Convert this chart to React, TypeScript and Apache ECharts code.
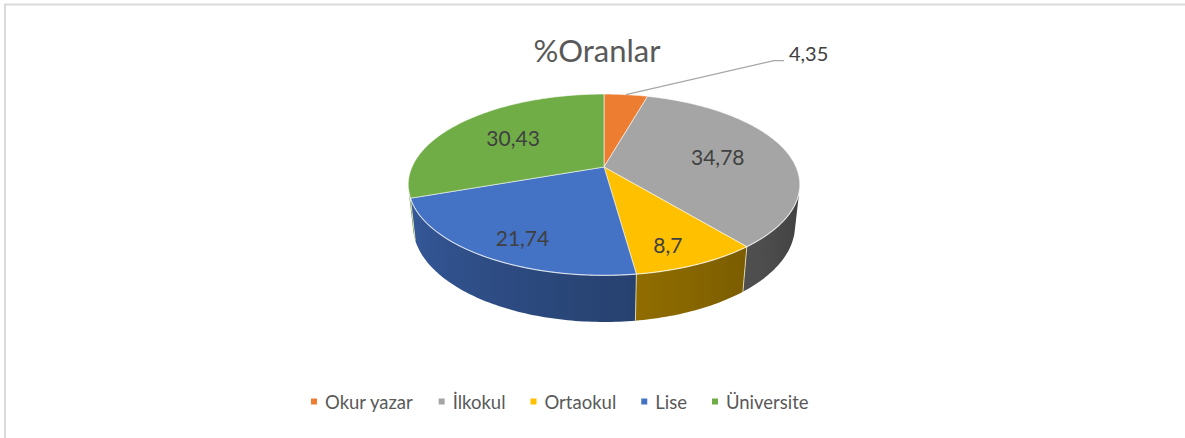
import React, { useEffect, useRef } from "react";
import * as echarts from "echarts";

const titleText = "%Oranlar";
const categories = ["Okur yazar", "İlkokul", "Ortaokul", "Lise", "Üniversite"];
const values = [4.35, 34.78, 8.7, 21.74, 30.43];
const colors = ["#ED7D31", "#A5A5A5", "#FFC000", "#4472C4", "#70AD47"];

const FONT = "Lato, 'Open Sans', sans-serif";

// projection constants (layout)
const CX = 604;
const CY = 167;
const F = 192;
const PHI = (27 * Math.PI) / 180;
const DIST = 4.56;
const DEPTH = 0.241;

function proj(thetaDeg: number, y: number, r = 1): number[] {
  const t = (thetaDeg * Math.PI) / 180;
  const X = r * Math.sin(t);
  const Z = -r * Math.cos(t);
  const pu = y * Math.cos(PHI) - Z * Math.sin(PHI);
  const pw = y * Math.sin(PHI) + Z * Math.cos(PHI);
  const s = DIST / (DIST - pw);
  return [CX + F * X * s, CY - F * pu * s];
}

const THETA_MIN = (Math.acos(-1 / (DIST * Math.cos(PHI))) * 180) / Math.PI;
const THETA_MAX = 360 - THETA_MIN;

function arcPts(a: number, b: number, y: number): number[][] {
  const pts: number[][] = [];
  const n = Math.max(2, Math.ceil(Math.abs(b - a) / 1));
  for (let i = 0; i <= n; i++) pts.push(proj(a + ((b - a) * i) / n, y));
  return pts;
}

function shade(hex: string, k: number) {
  const n = parseInt(hex.slice(1), 16);
  const r = Math.round(((n >> 16) & 255) * k);
  const g = Math.round(((n >> 8) & 255) * k);
  const b = Math.round((n & 255) * k);
  return `rgb(${r},${g},${b})`;
}

function shadeFactor(theta: number) {
  const t = Math.min(1, Math.max(0, (theta - THETA_MIN) / (THETA_MAX - THETA_MIN)));
  return 0.38 + 0.42 * t;
}

const total = values.reduce((s, v) => s + v, 0);
const starts: number[] = [];
{
  let acc = 0;
  values.forEach((v) => {
    starts.push((acc / total) * 360);
    acc += v;
  });
}

function fmt(v: number) {
  return String(v).replace(".", ",");
}

function renderSlice(i: number) {
  const a = starts[i];
  const b = a + (values[i] / total) * 360;
  const color = colors[i];
  const children: any[] = [];
  const center = proj(0, 0, 0);
  const topPts = [center, ...arcPts(a, b, 0)];

  const lo = Math.max(a, THETA_MIN);
  const hi = Math.min(b, THETA_MAX);
  if (lo < hi) {
    const topArc = arcPts(lo, hi, 0);
    const botArc = arcPts(lo, hi, -DEPTH).reverse();
    const sidePts = [...topArc, ...botArc];
    const xLo = proj(lo, 0)[0];
    const xHi = proj(hi, 0)[0];
    const stops: any[] = [];
    const ns = 6;
    for (let k = 0; k <= ns; k++) {
      const th = lo + ((hi - lo) * k) / ns;
      const x = proj(th, 0)[0];
      const off = Math.abs(xHi - xLo) < 1e-6 ? k / ns : (x - xLo) / (xHi - xLo);
      stops.push({ offset: Math.min(1, Math.max(0, off)), color: shade(color, shadeFactor(th)) });
    }
    stops.sort((p: any, q: any) => p.offset - q.offset);
    children.push({
      type: "polygon",
      shape: { points: sidePts },
      style: {
        fill: {
          type: "linear",
          x: xLo,
          y: 0,
          x2: xHi,
          y2: 0,
          global: true,
          colorStops: stops,
        },
        stroke: null,
      },
      z2: 1,
    });
    children.push({
      type: "polyline",
      shape: { points: topArc },
      style: { stroke: "rgba(255,255,255,0.45)", lineWidth: 1.2, fill: null },
      z2: 3,
    });
    if (b < THETA_MAX && b > THETA_MIN) {
      children.push({
        type: "line",
        shape: {
          x1: proj(b, 0)[0],
          y1: proj(b, 0)[1],
          x2: proj(b, -DEPTH)[0],
          y2: proj(b, -DEPTH)[1],
        },
        style: { stroke: "rgba(255,250,210,0.7)", lineWidth: 1 },
        z2: 3,
      });
    }
  }

  children.push({
    type: "polygon",
    shape: { points: topPts },
    style: { fill: color, stroke: "rgba(255,255,255,0.55)", lineWidth: 1 },
    z2: 2,
  });

  const share = values[i] / total;
  const mid = (a + b) / 2;
  if (share < 0.05) {
    const p0 = proj(mid, 0, 1);
    const p1 = [p0[0] + 148, p0[1] - 34];
    const p2 = [p1[0] + 10, p1[1]];
    children.push({
      type: "polyline",
      shape: { points: [p0, p1, p2] },
      style: { stroke: "#A6A6A6", lineWidth: 1.2, fill: null },
      z2: 50,
    });
    children.push({
      type: "text",
      x: p2[0] + 5,
      y: p2[1] - 8,
      style: {
        text: fmt(values[i]),
        fill: "#404040",
        fontSize: 20,
        fontFamily: FONT,
        align: "left",
        verticalAlign: "middle",
      },
      z2: 100,
    });
  } else {
    const front = Math.max(0, -Math.cos((mid * Math.PI) / 180));
    const r = 0.62 + 0.12 * front;
    const yl = -0.25 * DEPTH * front;
    const p = proj(mid, yl, r);
    children.push({
      type: "text",
      x: p[0],
      y: p[1],
      style: {
        text: fmt(values[i]),
        fill: "#404040",
        fontSize: 21,
        fontFamily: FONT,
        align: "center",
        verticalAlign: "middle",
      },
      z2: 100,
    });
  }
  return { type: "group", children };
}

export default function App() {
  const ref = useRef<HTMLDivElement>(null);
  useEffect(() => {
    if (!ref.current) return;
    const chart = echarts.init(ref.current, undefined, { renderer: "svg" });
    chart.setOption({
      animation: false,
      color: colors,
      legend: {
        data: categories,
        left: 306,
        top: 387,
        icon: "rect",
        itemWidth: 6,
        itemHeight: 6,
        itemGap: 25,
        textStyle: { fontSize: 18.5, color: "#595959", fontFamily: FONT, padding: [0, 0, 0, 3] },
        selectedMode: false,
      },
      graphic: [
        {
          type: "rect",
          shape: { x: 5, y: 4.5, width: 1200, height: 500 },
          style: { fill: null, stroke: "#D9D9D9", lineWidth: 2 },
          silent: true,
        },
        {
          type: "text",
          x: 597,
          y: 50,
          style: {
            text: titleText,
            fill: "#595959",
            fontSize: 31,
            fontFamily: FONT,
            align: "center",
            verticalAlign: "middle",
          },
        },
      ],
      series: categories.map((name, i) => ({
        type: "custom",
        name,
        coordinateSystem: "none",
        data: [values[i]],
        itemStyle: { color: colors[i] },
        renderItem: () => renderSlice(i),
      })),
    });
    return () => chart.dispose();
  }, []);
  return (
    <div
      ref={ref}
      style={{ position: "absolute", left: 0, top: 0, width: 1185, height: 438, background: "#fff" }}
    />
  );
}
